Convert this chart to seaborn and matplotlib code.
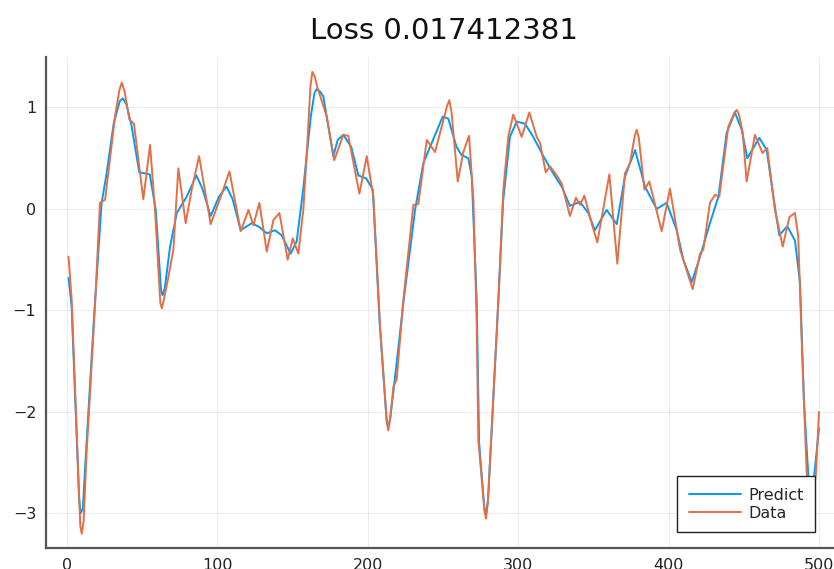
import numpy as np
import pandas as pd
import seaborn as sns
import matplotlib.pyplot as plt

# points (x, value)
predict_x = [1, 3, 8, 9, 10.5, 12, 18, 23, 26, 31, 35, 37, 39.5, 43, 48, 52, 55, 59, 62.5, 63.5,
             65, 68.5, 73, 79.5, 86, 90, 95.5, 101, 106, 110, 115.5, 122.8, 128, 132.8, 138.3,
             142.7, 148.7, 152.7, 157, 162, 164.5, 166, 168, 170.4, 177, 180, 183.7, 189, 193.7,
             199, 203.3, 208, 212.5, 213.6, 215, 217, 223.6, 231.4, 236.9, 242.5, 249.8, 253.5,
             259, 262.4, 266.8, 269.1, 272.4, 274, 277.5, 278.6, 280, 283.4, 286.8, 290, 294.5,
             299, 304.5, 310, 316.7, 323.3, 328.9, 334.4, 341, 346.6, 351, 358.8, 365.5, 371,
             377.7, 384.3, 392, 398.7, 405.4, 409.8, 415.4, 420.9, 427.5, 433.1, 438.6, 444.1,
             448.6, 452.3, 460.3, 465.2, 470.7, 473.6, 478.9, 484, 487.4, 490, 494, 497, 500]
predict_y = [-0.68, -0.95, -2.85, -3.0, -2.95, -2.55, -1.05, 0.06, 0.32, 0.84, 1.06, 1.09, 1.03,
             0.81, 0.36, 0.35, 0.34, -0.01, -0.8, -0.85, -0.78, -0.37, -0.04, 0.12, 0.33, 0.2,
             -0.07, 0.12, 0.22, 0.1, -0.21, -0.14, -0.18, -0.24, -0.21, -0.26, -0.44, -0.32,
             0.19, 0.9, 1.14, 1.18, 1.16, 1.11, 0.52, 0.68, 0.73, 0.61, 0.33, 0.30, 0.19, -1.15,
             -2.08, -2.16, -2.05, -1.8, -0.93, -0.01, 0.45, 0.65, 0.91, 0.89, 0.61, 0.53, 0.50,
             0.32, -0.9, -2.3, -2.95, -3.0, -2.85, -1.88, -0.9, 0.08, 0.71, 0.86, 0.84, 0.71,
             0.52, 0.35, 0.22, 0.03, 0.07, -0.04, -0.21, -0.01, -0.15, 0.32, 0.58, 0.22, 0.0,
             0.06, -0.21, -0.5, -0.72, -0.47, -0.14, 0.12, 0.75, 0.95, 0.78, 0.50, 0.70, 0.58,
             0.02, -0.26, -0.17, -0.31, -0.73, -1.9, -2.9, -2.6, -2.16]

data_x = [1, 3.1, 8.8, 9.8, 11, 13, 18.6, 21.9, 25.3, 31.9, 34.8, 36.4, 38.2, 41.5, 44.5, 50.7,
          55.2, 58.5, 62, 63, 64.3, 67.4, 70.7, 74, 78.9, 83, 87.8, 95.5, 102.9, 108, 115.5,
          120.6, 123.9, 127.9, 132.8, 137.2, 141.2, 146.7, 150.1, 153.8, 157.1, 159.8, 161.8,
          163.1, 164.8, 166.4, 172.7, 177.7, 183.7, 187, 194.4, 199.3, 203.7, 208.1, 212.6,
          213.6, 215, 217, 219.2, 223.6, 230.3, 233.6, 239.2, 244.7, 249.1, 252.8, 254.2, 255.7,
          259.8, 263.5, 267.3, 270.2, 272.4, 273.5, 277.6, 278.6, 279.8, 283.4, 286.8, 290.1,
          293.4, 296.7, 302.3, 307.4, 312.3, 314.5, 318.3, 321.1, 325.6, 328.9, 334.4, 338.4,
          341.1, 344, 348.8, 352.6, 360.6, 365.9, 371, 374.3, 377.5, 378.8, 380.2, 383.9, 387.2,
          395.4, 400.9, 407.6, 416, 420.9, 423.1, 427.5, 430.9, 433.7, 439.7, 443.8, 445.3, 446.8,
          449.3, 451.9, 457.4, 462.5, 465.6, 470.7, 475.9, 480.3, 484, 486.2, 488.5, 491.8, 495,
          498, 500]
data_y = [-0.47, -0.9, -3.12, -3.2, -3.08, -2.4, -0.95, 0.06, 0.09, 0.91, 1.17, 1.245, 1.16,
          0.88, 0.84, 0.095, 0.63, -0.01, -0.92, -0.98, -0.9, -0.67, -0.40, 0.40, -0.14, 0.2,
          0.52, -0.15, 0.15, 0.37, -0.22, -0.01, -0.16, 0.06, -0.42, -0.11, -0.04, -0.50, -0.29,
          -0.44, -0.01, 0.65, 1.2, 1.35, 1.3, 1.2, 0.91, 0.48, 0.73, 0.72, 0.15, 0.52, 0.12,
          -1.15, -2.1, -2.18, -2.05, -1.75, -1.68, -0.90, 0.04, 0.05, 0.68, 0.56, 0.81, 1.02,
          1.07, 0.95, 0.27, 0.56, 0.72, 0.09, -1.13, -2.28, -2.98, -3.05, -2.9, -1.88, -0.90,
          0.19, 0.71, 0.93, 0.71, 0.95, 0.71, 0.65, 0.36, 0.42, 0.33, 0.25, -0.07, 0.11, 0.04,
          0.13, -0.14, -0.33, 0.34, -0.54, 0.35, 0.45, 0.72, 0.78, 0.7, 0.19, 0.27, -0.22, 0.20,
          -0.40, -0.79, -0.44, -0.40, 0.06, 0.14, 0.12, 0.81, 0.95, 0.975, 0.93, 0.75, 0.27,
          0.73, 0.55, 0.60, -0.01, -0.37, -0.08, -0.04, -0.27, -1.3, -2.6, -3.0, -2.6, -2.0]

sns.set_style('white')
plt.rcParams['font.family'] = ['DejaVu Sans']

fig = plt.figure(figsize=(8.34, 5.69), dpi=100)
ax = fig.add_axes([0.0552, 0.0364, 0.9538, 0.8635])

sns.lineplot(x=predict_x, y=predict_y, ax=ax, color='#009AFA', linewidth=1.4,
             label='Predict', sort=False, estimator=None)
sns.lineplot(x=data_x, y=data_y, ax=ax, color='#E36F47', linewidth=1.4,
             label='Data', sort=False, estimator=None)

ax.set_xlim(-13.97, 514.97)
ax.set_ylim(-3.343, 1.497)
ax.set_xticks([0, 100, 200, 300, 400, 500])
ax.set_yticks([-3, -2, -1, 0, 1])
ax.grid(True, color='#000000', alpha=0.07, linewidth=0.8)

for s in ['top', 'right']:
    ax.spines[s].set_visible(False)
for s in ['left', 'bottom']:
    ax.spines[s].set_color('#555555')
    ax.spines[s].set_linewidth(1.6)
ax.tick_params(direction='in', length=5, width=1.2, color='#222222',
               labelsize=11.5, labelcolor='#222222', pad=7)

ax.set_title('Loss 0.017412381', fontsize=21, pad=13, color='#111111')

leg = ax.legend(loc='lower right', bbox_to_anchor=(815 / 834, 37 / 569),
                bbox_transform=fig.transFigure, borderaxespad=0, fancybox=False,
                edgecolor='#222222', framealpha=1, fontsize=11.5, handlelength=3.3,
                handletextpad=0.45, labelspacing=0.2, borderpad=0.7)
leg.get_frame().set_linewidth(1.0)

plt.savefig('out.png', dpi=100)
